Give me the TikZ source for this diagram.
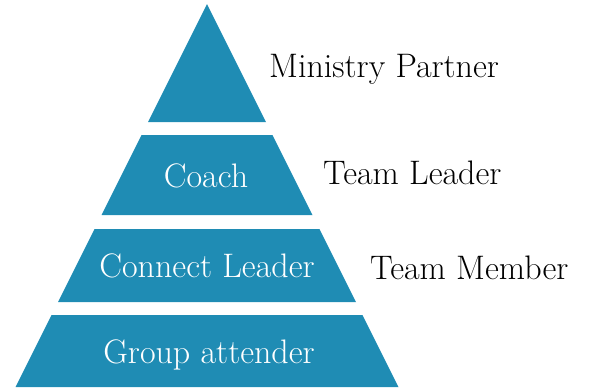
\documentclass[tikz,border=0pt]{standalone}
\usepackage{amssymb,amsfonts}
\usepackage{amsmath}
\usepackage{tikz}

\definecolor{tierblue}{RGB}{31,140,180}

\begin{document}
\begin{tikzpicture}
	 [x=1pt,y=-1pt,every node/.style={inner sep=0pt,font=\fontsize{34}{40}\selectfont},
	  tier/.style={fill=tierblue},intext/.style={text=white,anchor=base},sidetext/.style={text=black,anchor=base west}]
	\useasboundingbox (0,0) rectangle (590,389);

	% the four tiers, apex at (207,4)
	\foreach \t/\b in {4/122,135/215,229/302,315/387}
    \fill[tier] (207-0.5*\t+2,\t) -- (207+0.5*\t-2,\t) -- (207+0.5*\b-2,\b) -- (207-0.5*\b+2,\b) -- cycle;

	  \node (co)[intext] at (206,187) {Coach};
	  \node (cl)[intext] at (207,277) {Connect Leader};
	  \node (ga)[intext] at (209,363) {Group attender};

	  \node (mp)[sidetext] at (269,77) {Ministry Partner};
	  \node (tl)[sidetext] at (323,184) {Team Leader};
	  \node (tm)[sidetext] at (370,279) {Team Member};

\end{tikzpicture}
\end{document}
